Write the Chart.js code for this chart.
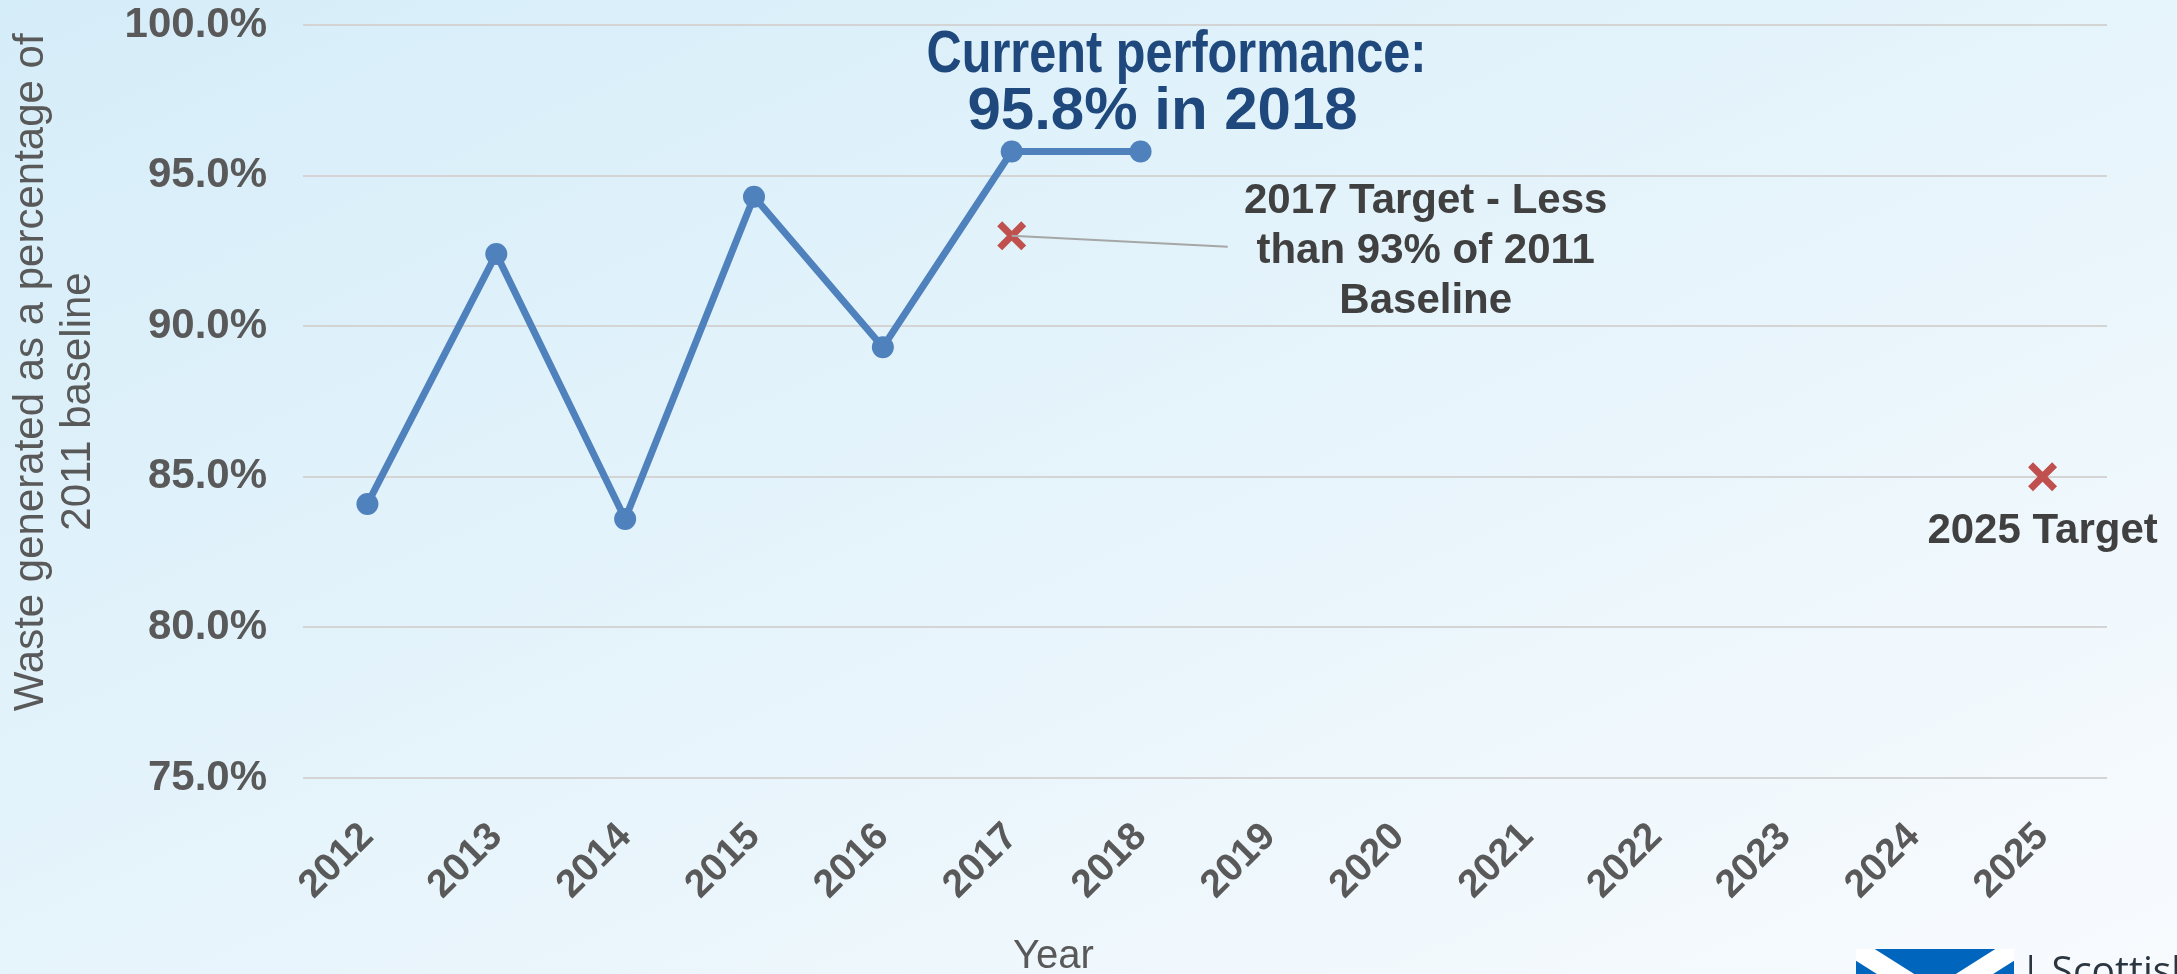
<!DOCTYPE html>
<html>
<head>
<meta charset="utf-8">
<script src="https://cdn.jsdelivr.net/npm/chart.js@4.4.1/dist/chart.umd.min.js"></script>
<style>
  html, body { margin: 0; padding: 0; }
  body {
    width: 2177px; height: 974px; overflow: hidden; position: relative;
    background: linear-gradient(to bottom right, #d5edf9 0%, #e6f4fb 50%, #f8fbfe 100%);
    font-family: "Liberation Sans", Arial, sans-serif;
  }
  #wrap { position: absolute; left: 0; top: 0; width: 2177px; height: 974px; }
  #logo { position: absolute; left: 1856px; top: 949px; height: 100px; }
  #logo svg { position: absolute; left: 0; top: 0; }
  #logo span {
    position: absolute; left: 164px; top: -7px; white-space: nowrap;
    font-family: "Open Sans", sans-serif; font-size: 39px; color: #2b3640;
  }
</style>
</head>
<body>
<div id="wrap"><canvas id="wasteChart"></canvas></div>
<div id="logo">
  <svg width="158" height="100" viewBox="0 0 158 100">
    <rect width="158" height="100" fill="#0065bd"/>
    <path d="M0,0 L158,100 M158,0 L0,100" stroke="#fff" stroke-width="20"/>
  </svg>
  <span>| Scottish</span>
</div>
<script>
// Datos
const years = ['2012', '2013', '2014', '2015', '2016', '2017', '2018',
               '2019', '2020', '2021', '2022', '2023', '2024', '2025'];
const performance = [84.1, 92.4, 83.6, 94.3, 89.3, 95.8, 95.8];
const targets = [null, null, null, null, null, 93, null, null, null, null, null, null, null, 85];
const yTicks = [75, 80, 85, 90, 95, 100];

const currentText = ['Current performance:', '95.8% in 2018'];
const target2017Text = ['2017 Target - Less', 'than 93% of 2011', 'Baseline'];
const target2025Text = '2025 Target';

const FONT = '"Liberation Sans", Arial, sans-serif';

// Plugin para las anotaciones de texto
const annotations = {
    id: 'annotations',
    afterDatasetsDraw(chart) {
        const ctx = chart.ctx;
        const x = chart.scales.x;
        const y = chart.scales.y;
        ctx.save();
        ctx.textAlign = 'center';
        ctx.textBaseline = 'middle';

        // Rendimiento actual (2018)
        const px18 = x.getPixelForValue(6);
        const py18 = y.getPixelForValue(performance[6]);
        ctx.fillStyle = '#1f497d';
        ctx.font = 'bold 60px ' + FONT;
        ctx.fillText(currentText[0], px18 + 36, py18 - 96, 500);
        ctx.fillText(currentText[1], px18 + 22, py18 - 39);

        // Objetivo 2017 con línea guía
        const px17 = x.getPixelForValue(5);
        const py17 = y.getPixelForValue(targets[5]);
        ctx.strokeStyle = '#a6a6a6';
        ctx.lineWidth = 2;
        ctx.beginPath();
        ctx.moveTo(px17, py17);
        ctx.lineTo(px17 + 216, py17 + 11);
        ctx.stroke();
        ctx.fillStyle = '#404040';
        ctx.font = 'bold 42px ' + FONT;
        target2017Text.forEach((t, i) => {
            ctx.fillText(t, px17 + 414, py17 - 34 + i * 50);
        });

        // Objetivo 2025
        const px25 = x.getPixelForValue(13);
        const py25 = y.getPixelForValue(targets[13]);
        ctx.fillText(target2025Text, px25, py25 + 55);
        ctx.restore();
    }
};

const ctx = document.getElementById('wasteChart').getContext('2d');
new Chart(ctx, {
    type: 'line',
    data: {
        labels: years,
        datasets: [{
            label: 'Waste generated',
            data: performance,
            borderColor: '#4f81bd',
            backgroundColor: '#4f81bd',
            borderWidth: 7,
            pointRadius: 11,
            pointBackgroundColor: '#4f81bd',
            pointBorderWidth: 0,
            tension: 0
        }, {
            label: 'Targets',
            data: targets,
            showLine: false,
            pointStyle: 'crossRot',
            pointRadius: 17,
            borderColor: '#c0504d',
            pointBorderColor: '#c0504d',
            pointBorderWidth: 7
        }]
    },
    options: {
        responsive: true,
        maintainAspectRatio: false,
        animation: false,
        devicePixelRatio: 1,
        layout: {
            padding: { left: 0, right: 70, top: 0, bottom: 0 }
        },
        plugins: {
            legend: { display: false },
            tooltip: { enabled: false },
            title: {
                display: true,
                position: 'bottom',
                text: 'Year',
                color: '#595959',
                font: { family: FONT, size: 40, weight: 'normal', lineHeight: 0.85 },
                padding: { top: 0, bottom: 0 }
            }
        },
        scales: {
            x: {
                offset: true,
                grid: { display: false },
                border: { display: false },
                ticks: {
                    color: '#595959',
                    font: { family: FONT, size: 39, weight: 'bold' },
                    maxRotation: 45,
                    minRotation: 45,
                    padding: 28
                },
                afterFit(scale) { scale.height = 162; }
            },
            y: {
                min: 75,
                max: 100,
                afterBuildTicks(scale) { scale.ticks = yTicks.map(v => ({ value: v })); },
                grid: {
                    color: '#d4d4d4',
                    lineWidth: 2,
                    drawTicks: false
                },
                border: { display: false },
                ticks: {
                    color: '#595959',
                    font: { family: FONT, size: 42, weight: 'bold' },
                    padding: 36,
                    callback: v => v.toFixed(1) + '%'
                },
                title: {
                    display: true,
                    text: ['     Waste generated as a percentage of', '2011 baseline'],
                    color: '#595959',
                    font: { family: FONT, size: 42, weight: 'normal', lineHeight: 1.12 },
                    padding: { top: 8, bottom: 0 }
                },
                afterFit(scale) {
                    scale.width = 303;
                    scale.paddingTop = 25;
                    scale.paddingBottom = 0;
                }
            }
        }
    },
    plugins: [annotations]
});
</script>
</body>
</html>
